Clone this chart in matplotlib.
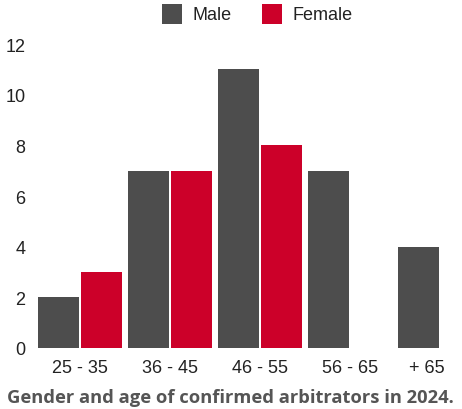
import matplotlib
matplotlib.use("Agg")
import matplotlib.pyplot as plt
from matplotlib.patches import Rectangle
from matplotlib.transforms import ScaledTranslation
import numpy as np

categories = ["25 - 35", "36 - 45", "46 - 55", "56 - 65", "+ 65"]
male = [2, 7, 11, 7, 4]
female = [3, 7, 8, 0, 0]
y_ticks = [0, 2, 4, 6, 8, 10, 12]

MALE_COLOR = "#4d4d4d"
FEMALE_COLOR = "#cc0029"
W, H = 462, 410
FS = 13

fig = plt.figure(figsize=(W / 100, H / 100), dpi=100)
ax = fig.add_axes([35 / W, 61 / H, 450 / W, 304 / H])

x = np.arange(len(categories))
bw = 0.455
off = 0.236
ax.bar(x - off, male, width=bw, color=MALE_COLOR, label="Male")
ax.bar(x + off, female, width=bw, color=FEMALE_COLOR, label="Female")

ax.set_xlim(-0.5, len(categories) - 0.5)
ax.set_ylim(0, 12)
ax.set_yticks(y_ticks)
ax.set_xticks(x)
ax.set_xticklabels(categories)
ax.tick_params(axis="both", length=0, labelsize=FS, labelcolor="#222222",
               labelfontfamily="Liberation Sans")
ax.tick_params(axis="y", pad=7)
ax.tick_params(axis="x", pad=8)
for s in ax.spines.values():
    s.set_visible(False)

# keep the last category label inside the canvas
last = ax.get_xticklabels()[-1]
last.set_transform(last.get_transform() + ScaledTranslation(-13 / 100, 0, fig.dpi_scale_trans))

# legend drawn as swatches + labels
def px(xp, yp):
    return xp / W, 1 - yp / H

for (x0, label, color, tx) in [(162, "Male", MALE_COLOR, 193), (262, "Female", FEMALE_COLOR, 293)]:
    fx, fy = px(x0, 25)
    fig.patches.append(Rectangle((fx, fy), 20 / W, 20 / H, transform=fig.transFigure,
                                 facecolor=color, edgecolor="none"))
    tx_, ty_ = px(tx, 15)
    fig.text(tx_, ty_, label, ha="left", va="center", fontsize=FS,
             family="Liberation Sans", color="#222222")

tx_, ty_ = px(230, 398)
fig.text(tx_, ty_, "Gender and age of confirmed arbitrators in 2024.", ha="center", va="center",
         fontsize=13.2, fontweight="bold", family="Open Sans", color="#555555")

fig.savefig("out.png", dpi=100)
